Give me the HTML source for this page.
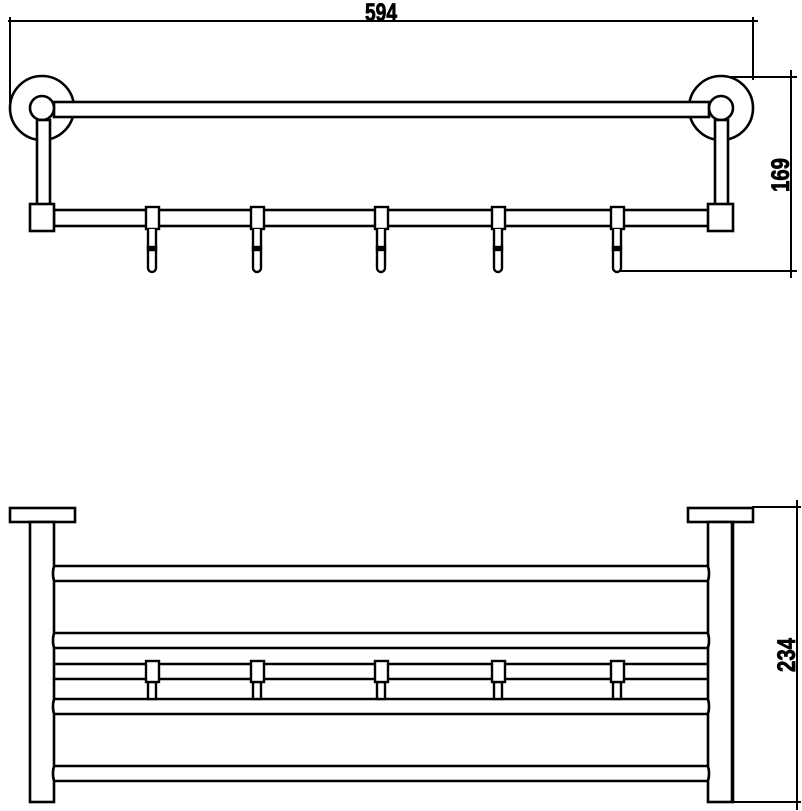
<!DOCTYPE html>
<html><head><meta charset="utf-8"><style>
html,body{margin:0;padding:0;background:#fff}
svg{display:block}
text{font-family:"Liberation Sans Narrow","Liberation Sans",sans-serif;font-weight:bold;fill:#000;stroke:#000;stroke-width:0.8}
</style></head><body>
<svg width="802" height="811" viewBox="0 0 802 811" xmlns="http://www.w3.org/2000/svg">
<g fill="none" stroke="#000" stroke-width="2.6">
<line x1="8" y1="21" x2="758" y2="21" stroke-width="2"/>
<line x1="10" y1="17" x2="10" y2="105" stroke-width="2"/>
<line x1="753" y1="17" x2="753" y2="80" stroke-width="2"/>
<line x1="722" y1="77" x2="797" y2="77" stroke-width="2"/>
<line x1="617" y1="271" x2="797" y2="271" stroke-width="2"/>
<line x1="791" y1="70" x2="791" y2="278" stroke-width="2"/>
<circle cx="42" cy="108" r="32" fill="#fff"/>
<circle cx="721" cy="108" r="32" fill="#fff"/>
<rect x="54" y="102" width="655" height="15" fill="#fff"/>
<circle cx="42" cy="108" r="12" fill="#fff"/>
<circle cx="721" cy="108" r="12" fill="#fff"/>
<rect x="37" y="120" width="13" height="86" fill="#fff"/>
<rect x="715" y="120" width="13" height="86" fill="#fff"/>
<rect x="54" y="210" width="655" height="16" fill="#fff"/>
<rect x="30" y="204" width="24" height="27" fill="#fff"/>
<rect x="708" y="204" width="25" height="27" fill="#fff"/>
</g>
<g fill="#fff" stroke="#000" stroke-width="2.4">
<g id="hk">
<rect x="146" y="207" width="13" height="22"/>
<path d="M148,229 V268 a4,4 0 0 0 8,0 V229"/>
<rect x="148" y="247" width="8" height="3" fill="#000"/>
</g>
<use href="#hk" x="105"/>
<use href="#hk" x="229"/>
<use href="#hk" x="346"/>
<use href="#hk" x="465"/>
</g>
<text x="381" y="21" font-size="25" text-anchor="middle" textLength="32" lengthAdjust="spacingAndGlyphs">594</text>
<text transform="translate(789,175) rotate(-90)" font-size="25" text-anchor="middle" textLength="34" lengthAdjust="spacingAndGlyphs">169</text>

<g fill="#fff" stroke="#000" stroke-width="2.6">
<line x1="752" y1="507" x2="801" y2="507" stroke-width="2"/>
<line x1="733" y1="802" x2="801" y2="802" stroke-width="2"/>
<line x1="797" y1="500" x2="797" y2="810" stroke-width="2"/>
<rect x="10" y="508" width="65" height="14"/>
<rect x="688" y="508" width="65" height="14"/>
<rect x="30" y="522" width="24" height="280"/>
<rect x="708" y="522" width="25" height="280"/>
<line x1="732" y1="522" x2="732" y2="802"/>
<g id="rl">
<path d="M55,566 H707 a2,7.5 0 0 1 0,15 H55 a2,7.5 0 0 1 0,-15 Z"/>
</g>
<use href="#rl" y="67"/>
<use href="#rl" y="133"/>
<use href="#rl" y="200"/>
<line x1="54" y1="664" x2="708" y2="664"/>
<line x1="54" y1="679" x2="708" y2="679"/>
</g>
<g fill="#fff" stroke="#000" stroke-width="2.4">
<g id="bh">
<rect x="148" y="682" width="8" height="17"/>
<rect x="146" y="661" width="13" height="21"/>
</g>
<use href="#bh" x="105"/>
<use href="#bh" x="229"/>
<use href="#bh" x="346"/>
<use href="#bh" x="465"/>
</g>
<text transform="translate(795,655) rotate(-90)" font-size="25" text-anchor="middle" textLength="34" lengthAdjust="spacingAndGlyphs">234</text>
</svg>
</body></html>
